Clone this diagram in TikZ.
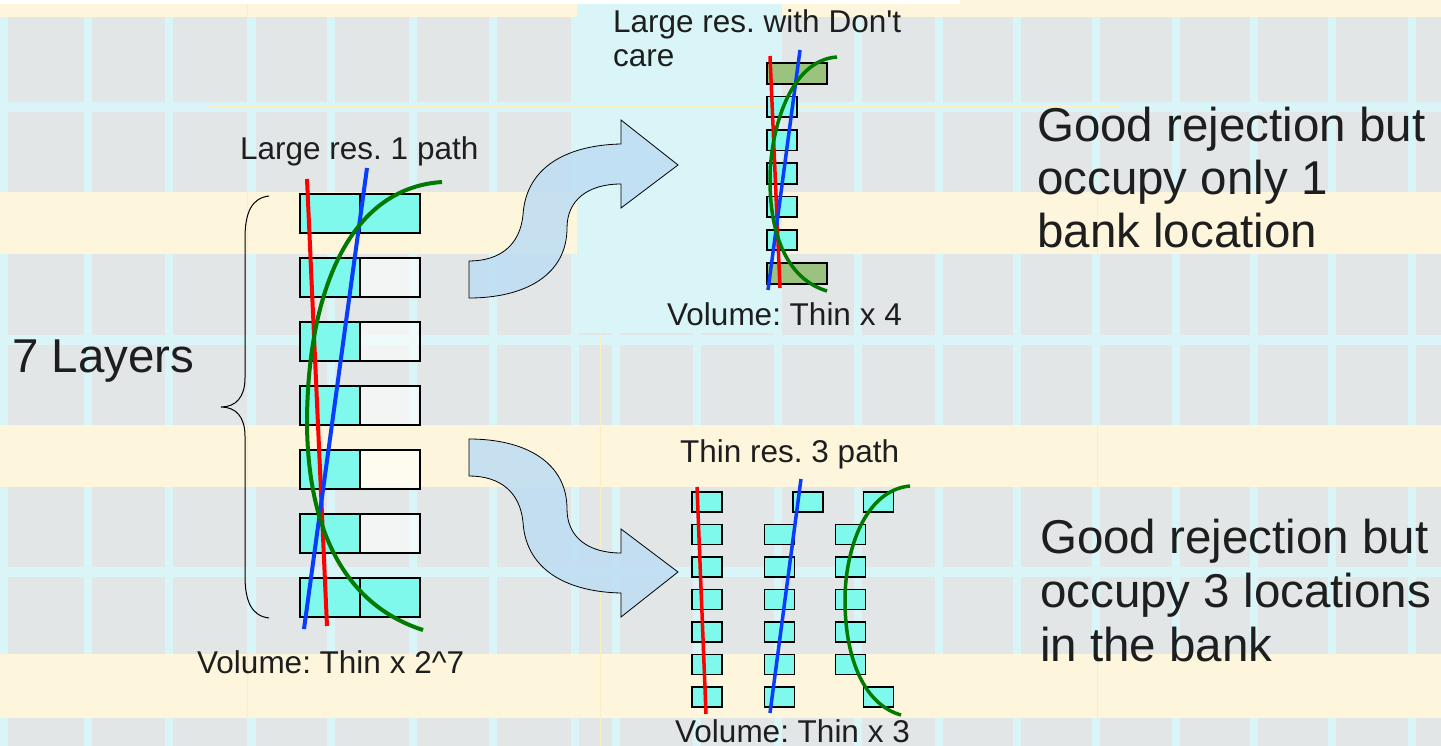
\documentclass[tikz,border=0pt]{standalone}
\usepackage{fontspec}
\setmainfont{Liberation Sans}
\frenchspacing
\begin{document}
\begin{tikzpicture}[x=1pt,y=-1pt]
\definecolor{cream}{HTML}{FDF6DD}
\definecolor{cellgray}{HTML}{E2E6E7}
\definecolor{gridcyan}{HTML}{D9F5F7}
\definecolor{paleyellow}{HTML}{FAEFC2}
\definecolor{slotcyan}{HTML}{7EF9EC}
\definecolor{slotgreen}{HTML}{9CC280}
\definecolor{arrowblue}{HTML}{BEDDF3}
\definecolor{ink}{HTML}{1E1E1E}
\definecolor{trkred}{HTML}{FF0000}
\definecolor{trkblue}{HTML}{0A3CFF}
\definecolor{trkgreen}{HTML}{007A00}
\tikzset{
  txt/.style={font=\fontsize{31.5}{36}\selectfont, text=ink, inner sep=0pt},
  bigtxt/.style={font=\fontsize{47.5}{54}\selectfont, text=ink, inner sep=0pt},
  slot/.style={draw=black, line width=2pt, inner sep=0pt, minimum height=39pt, minimum width=60pt},
  smallslot/.style={draw=black, line width=1.8pt, inner sep=0pt, minimum height=20.5pt, minimum width=30pt, fill=slotcyan},
  wideslot/.style={smallslot, minimum width=60pt, fill=slotgreen},
  track/.style={line width=4pt, line cap=butt},
  bigarrow/.style={draw=black, line width=0.8pt, fill=arrowblue, fill opacity=0.85},
}
\useasboundingbox (0,0) rectangle (1441,746);

% ---- backdrop: cream sheet with bands of grey cells on a cyan grid
\fill[cream] (0,0) rectangle (1441,746);
\fill[white] (0,0) rectangle (960,4);
\foreach \ya/\yb in {17/192, 254/425, 487/654, 718/746} {
  \fill[cellgray] (0,\ya) rectangle (1441,\yb);
  \foreach \xs in {4,88,169,252,331,413,493,575,616,697,778,858,939,1017,1096,1176,1254,1332,1412}
    \fill[gridcyan] (\xs-4,\ya) rectangle (\xs+4,\yb);
}
\foreach \ym in {107,340,572}
  \fill[gridcyan] (0,\ym-5) rectangle (1441,\ym+5);
\fill[gridcyan] (577,4) rectangle (782,333);
\draw[paleyellow, line width=1.5pt] (210,107) -- (1120,107);
\draw[paleyellow, line width=1pt] (247,4) -- (247,746) (1097,17) -- (1097,746) (600,333) -- (600,746);

% ---- left: seven two-cell layers
\foreach \r in {0,...,6} {
  \pgfmathsetmacro\cy{213.5+64*\r}
  \node[slot, fill=slotcyan] (L\r-a) at (330,\cy) {};
  \ifnum\r=0
    \node[slot, fill=slotcyan] (L\r-b) at (390,\cy) {};
  \else\ifnum\r=6
    \node[slot, fill=slotcyan] (L\r-b) at (390,\cy) {};
  \else
    \node[slot, fill=white, fill opacity=0.6] (L\r-b) at (390,\cy) {};
  \fi\fi
}
\draw[track, trkred] (307,179) -- (327,626);
\draw[track, trkblue] (367,168) -- (304,629);
\draw[track, trkgreen] (442,182) .. controls (350,188) and (308,290) .. (307,420)
  .. controls (307,530) and (345,605) .. (423,630);

% brace over the layers
\draw[black, line width=1pt] (269,196) .. controls (252,198) and (245,212) .. (245,238)
  -- (245,378) .. controls (245,397) and (236,407) .. (221,407)
  .. controls (236,407) and (245,417) .. (245,436)
  -- (245,576) .. controls (245,602) and (252,616) .. (269,618);

\node[bigtxt, anchor=base west] (layers) at (12,372) {7 Layers};
\node[txt, anchor=base west] (lrlabel) at (240,160) {Large res. 1 path};
\node[txt, anchor=base west] (vol1) at (197,673) {Volume: Thin x 2\textasciicircum 7};

% ---- curved arrows
\draw[bigarrow] (469,261) .. controls (500,261) and (520,245) .. (523,215)
  .. controls (526,165) and (570,145) .. (621,144)
  -- (621,120) -- (678,165) -- (621,208) -- (621,184)
  .. controls (588,184) and (567,200) .. (567,228)
  .. controls (567,275) and (525,298) .. (469,298) -- cycle;
\draw[bigarrow] (469,476) .. controls (500,476) and (520,492) .. (523,522)
  .. controls (526,572) and (570,592) .. (621,593)
  -- (621,617) -- (678,572) -- (621,529) -- (621,553)
  .. controls (588,553) and (567,537) .. (567,509)
  .. controls (567,462) and (525,439) .. (469,439) -- cycle;

% ---- upper right: one column with don't-care end cells
\foreach \k in {0,...,6} {
  \pgfmathsetmacro\cy{73.5+33.33*\k}
  \ifnum\k=0
    \node[wideslot] (D\k) at (797,\cy) {};
  \else\ifnum\k=6
    \node[wideslot] (D\k) at (797,\cy) {};
  \else
    \node[smallslot] (D\k) at (782,\cy) {};
  \fi\fi
}
\draw[track, line width=3.5pt, trkred] (770,56) -- (780,288);
\draw[track, line width=3.5pt, trkblue] (800,50) -- (768,290);
\draw[track, line width=3.5pt, trkgreen] (837,57) .. controls (790,60) and (770,130) .. (770,180)
  .. controls (770,240) and (790,280) .. (827,291);
\node[txt, anchor=base west] (dclabel) at (613,33) {Large res. with Don\textquotesingle t};
\node[txt, anchor=base west] (dclabel2) at (613,67) {care};
\node[txt, anchor=base west] (vol2) at (667,325) {Volume: Thin x 4};

% ---- lower right: three thin columns
\foreach \k in {0,...,6} {
  \pgfmathsetmacro\cy{502+32.5*\k}
  \node[smallslot, minimum height=20pt] (A\k) at (707,\cy) {};
  \ifnum\k=0
    \node[smallslot, minimum height=20pt] (B\k) at (808,\cy) {};
  \else
    \node[smallslot, minimum height=20pt] (B\k) at (779.5,\cy) {};
  \fi
  \ifnum\k=0
    \node[smallslot, minimum height=20pt] (C\k) at (878.5,\cy) {};
  \else\ifnum\k=6
    \node[smallslot, minimum height=20pt] (C\k) at (878.5,\cy) {};
  \else
    \node[smallslot, minimum height=20pt] (C\k) at (850.5,\cy) {};
  \fi\fi
}
\draw[track, line width=3.5pt, trkred] (697,487) -- (706,714);
\draw[track, line width=3.5pt, trkblue] (801,479) -- (770,713);
\draw[track, line width=3.5pt, trkgreen] (910,486) .. controls (865,490) and (845,550) .. (845,600)
  .. controls (845,660) and (865,705) .. (901,715);
\node[txt, anchor=base west] (thinlabel) at (680,462) {Thin res. 3 path};
\node[txt, anchor=base west] (vol3) at (675,742) {Volume: Thin x 3};

% ---- conclusions
\node[bigtxt, anchor=base west] (good1a) at (1037,142) {Good rejection but};
\node[bigtxt, anchor=base west] (good1b) at (1037,195) {occupy only 1};
\node[bigtxt, anchor=base west] (good1c) at (1037,248) {bank location};
\node[bigtxt, anchor=base west] (good2a) at (1040,553) {Good rejection but};
\node[bigtxt, anchor=base west] (good2b) at (1040,607) {occupy 3 locations};
\node[bigtxt, anchor=base west] (good2c) at (1040,661) {in the bank};
\end{tikzpicture}
\end{document}
